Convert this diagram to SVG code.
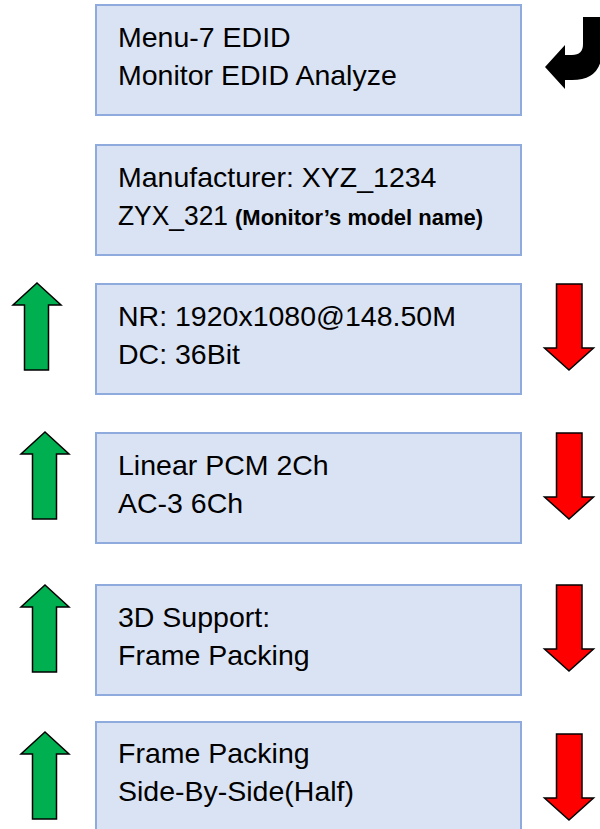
<svg xmlns="http://www.w3.org/2000/svg" width="600" height="829" viewBox="0 0 600 829">
<style>
.box{fill:#dae3f3;stroke:#8faadc;stroke-width:2}
.t{font-family:"Liberation Sans",Arial,sans-serif;font-size:28.5px;fill:#000}
.b{font-family:"Liberation Sans",Arial,sans-serif;font-size:22px;font-weight:bold;fill:#000}
.up{fill:#00b050;stroke:#000;stroke-width:1.5;stroke-linejoin:miter}
.dn{fill:#ff0000;stroke:#000;stroke-width:1.5;stroke-linejoin:miter}
</style>
<defs>
<path id="upA" d="M0 0 L24 22 L11.5 22 L11.5 87 L-12.5 87 L-12.5 22 L-24 22 Z"/>
<path id="dnA" d="M-12.5 0 L13 0 L13 64 L24.5 64 L0 86 L-24.5 64 L-12.5 64 Z"/>
</defs>
<rect width="600" height="829" fill="#fff"/>
<g id="node1">
<rect class="box" x="96" y="5" width="425" height="110"/>
<text class="t" x="118" y="47">Menu-7 EDID</text>
<text class="t" x="118" y="85">Monitor EDID Analyze</text>
</g>
<g id="node2">
<rect class="box" x="96" y="145" width="425" height="110"/>
<text class="t" x="118" y="187">Manufacturer: XYZ_1234</text>
<text class="t" x="118" y="225" textLength="110" lengthAdjust="spacingAndGlyphs">ZYX_321</text>
<text class="b" x="235" y="225">(Monitor’s model name)</text>
</g>
<g id="node3">
<rect class="box" x="96" y="284" width="425" height="110"/>
<text class="t" x="118" y="326">NR: 1920x1080@148.50M</text>
<text class="t" x="118" y="364">DC: 36Bit</text>
</g>
<g id="node4">
<rect class="box" x="96" y="433" width="425" height="110"/>
<text class="t" x="118" y="475">Linear PCM 2Ch</text>
<text class="t" x="118" y="513">AC-3 6Ch</text>
</g>
<g id="node5">
<rect class="box" x="96" y="585" width="425" height="110"/>
<text class="t" x="118" y="627">3D Support:</text>
<text class="t" x="118" y="665">Frame Packing</text>
</g>
<g id="node6">
<rect class="box" x="96" y="722" width="425" height="112"/>
<text class="t" x="118" y="763">Frame Packing</text>
<text class="t" x="118" y="801">Side-By-Side(Half)</text>
</g>
<g id="connectors">
<path id="back" d="M583 17 L602 17 L602 50 Q602 80 572 80 L565 80 L565 89 L545 67 L565 45 L565 55 L572 55 Q583 55 583 44 Z" fill="#000"/>
<use href="#upA" class="up" x="37" y="283"/>
<use href="#upA" class="up" x="45" y="432"/>
<use href="#upA" class="up" x="45" y="585"/>
<use href="#upA" class="up" x="45" y="732"/>
<use href="#dnA" class="dn" x="569" y="284"/>
<use href="#dnA" class="dn" x="569" y="433"/>
<use href="#dnA" class="dn" x="569" y="585"/>
<use href="#dnA" class="dn" x="569" y="734"/>
</g>
</svg>
